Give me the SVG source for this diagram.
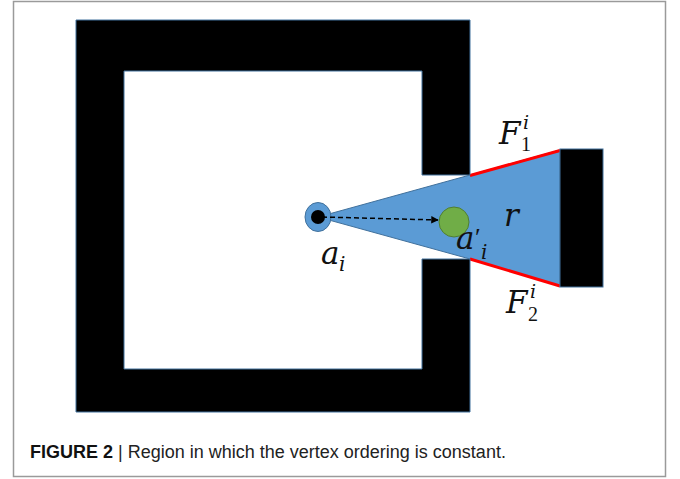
<svg xmlns="http://www.w3.org/2000/svg" width="680" height="479" viewBox="0 0 680 479">
  <style>
    .wall { fill: #000; stroke: #41719c; stroke-width: 1; }
    .math { font-family: "DejaVu Serif", "Liberation Serif", serif; font-style: italic; fill: #111; }
    .sub { font-family: "Liberation Serif", "DejaVu Serif", serif; fill: #111; }
    .cap { font-family: "Liberation Sans", Arial, sans-serif; font-size: 18px; fill: #222; }
  </style>
  <defs>
    <marker id="arr" viewBox="0 0 10 10" refX="9" refY="5" markerWidth="5" markerHeight="5" orient="auto" markerUnits="strokeWidth">
      <path d="M0,0 L10,5 L0,10 Z" fill="#000"/>
    </marker>
  </defs>
  <rect x="0" y="0" width="680" height="479" fill="#fff"/>
  <rect id="frame" x="13.5" y="1.5" width="652" height="475" fill="#fff" stroke="#9a9a9a" stroke-width="1.5"/>

  <g id="region">
    <path d="M318,217 L470,175 L560,150 L560,286 L470,259 Z" fill="#5b9bd5" stroke="#41719c" stroke-width="1"/>
    <line x1="470" y1="175.5" x2="560" y2="150.5" stroke="#ff0000" stroke-width="3"/>
    <line x1="470" y1="259" x2="560" y2="286" stroke="#ff0000" stroke-width="3"/>
  </g>

  <g id="room">
    <path class="wall" d="M76,20 H470 V175 H422 V71 H124 V369 H422 V259 H470 V412 H76 Z"/>
  </g>

  <g id="obstacle">
    <rect class="wall" x="560" y="149" width="43" height="138"/>
  </g>

  <g id="agent">
    <ellipse cx="318" cy="217" rx="13" ry="14.5" fill="#5b9bd5" stroke="#41719c" stroke-width="1"/>
    <circle cx="318" cy="217" r="7" fill="#000"/>
  </g>

  <g id="target">
    <circle cx="454" cy="222" r="15" fill="#70ad47" stroke="#507e32" stroke-width="1"/>
  </g>

  <g id="connectors">
    <line x1="322" y1="217" x2="438" y2="220" stroke="#000" stroke-width="1.5" stroke-dasharray="5,3" marker-end="url(#arr)"/>
  </g>

  <g id="labels">
    <text class="math" x="321" y="264" font-size="31">a</text>
    <text class="math" x="339" y="271" font-size="20">i</text>
    <text class="math" x="456" y="249" font-size="31">a</text>
    <text class="sub" x="475" y="246" font-size="26">′</text>
    <text class="math" x="481" y="259" font-size="20">i</text>
    <text class="math" x="504" y="226" font-size="31">r</text>
    <text class="math" x="499" y="144" font-size="31">F</text>
    <text class="math" x="523" y="129" font-size="19">i</text>
    <text class="sub" x="521" y="151" font-size="20">1</text>
    <text class="math" x="506" y="313" font-size="31">F</text>
    <text class="math" x="530" y="298" font-size="19">i</text>
    <text class="sub" x="528" y="321" font-size="20">2</text>
  </g>

  <g id="caption">
    <text class="cap" x="30" y="458"><tspan font-weight="bold" fill="#111">FIGURE 2</tspan> | Region in which the vertex ordering is constant.</text>
  </g>
</svg>
